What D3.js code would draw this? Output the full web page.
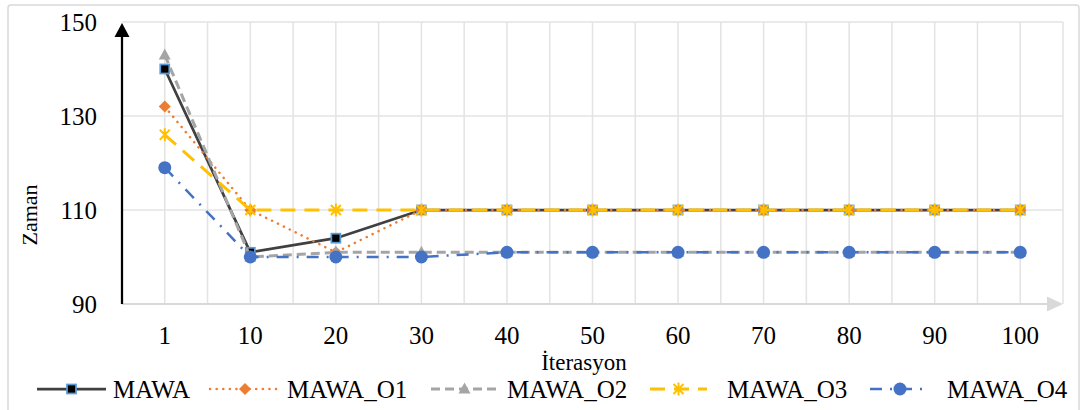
<!DOCTYPE html>
<html>
<head>
	<meta charset="utf-8">
	<title>Zaman / Iterasyon</title>
	<script src="https://d3js.org/d3.v7.min.js"></script>
	<style type="text/css">
		body {
			margin: 0;
			background: #fff;
		}
		svg {
			display: block;
			font-family: "Liberation Serif", "Times New Roman", serif;
		}
		.grid line {
			stroke: #e3e3e3;
			stroke-width: 1.5;
		}
		.tick-label {
			font-size: 25px;
			fill: #000;
		}
	</style>
</head>
<body>

<div id="chart"></div>

<script>
	// ---- data ----
	var iterations = ["1", "10", "20", "30", "40", "50", "60", "70", "80", "90", "100"];
	var yTicks = [90, 110, 130, 150];

	var mawa   = [140, 101, 104, 110, 110, 110, 110, 110, 110, 110, 110];
	var mawaO1 = [132, 110, 101, 110, 110, 110, 110, 110, 110, 110, 110];
	var mawaO2 = [143, 100, 101, 101, 101, 101, 101, 101, 101, 101, 101];
	var mawaO3 = [126, 110, 110, 110, 110, 110, 110, 110, 110, 110, 110];
	var mawaO4 = [119, 100, 100, 100, 101, 101, 101, 101, 101, 101, 101];

	var seriesNames = ["MAWA", "MAWA_O1", "MAWA_O2", "MAWA_O3", "MAWA_O4"];

	var series = [
		{name: seriesNames[0], values: mawa,   color: "#404040", width: 2.75, dash: null,       cap: "butt",  marker: "square"},
		{name: seriesNames[1], values: mawaO1, color: "#ed7d31", width: 2.5,  dash: "0.1 6.5",  cap: "round", marker: "diamond"},
		{name: seriesNames[2], values: mawaO2, color: "#a5a5a5", width: 3,    dash: "9 5",      cap: "butt",  marker: "triangle"},
		{name: seriesNames[3], values: mawaO3, color: "#ffc000", width: 3,    dash: "15 9",     cap: "butt",  marker: "star"},
		{name: seriesNames[4], values: mawaO4, color: "#4472c4", width: 2.5,  dash: "12 8 2 8", cap: "butt",  marker: "circle"}
	];

	// legend layout (line start, line end, text x)
	var legendPos = [[37, 106, 113], [210, 280, 287], [431, 498, 507], [650, 707, 727], [870, 930, 947]];

	// ---- layout ----
	var W = 1085, H = 410;
	var plot = {left: 122, right: 1063, top: 22, bottom: 304};

	var svg = d3.select("#chart").append("svg")
		.attr("width", W)
		.attr("height", H);

	// outer chart border
	svg.append("rect")
		.attr("x", 8).attr("y", 5)
		.attr("width", 1071).attr("height", 420)
		.attr("rx", 3)
		.attr("fill", "#fff")
		.attr("stroke", "#d9d9d9")
		.attr("stroke-width", 1.5);

	var x = d3.scaleBand()
		.domain(iterations)
		.range([plot.left, plot.right])
		.padding(0);

	var y = d3.scaleLinear()
		.domain([90, 150])
		.range([plot.bottom, plot.top]);

	var cx = function(i) { return x(iterations[i]) + x.bandwidth() / 2; };

	// gridlines: vertical at category centres and boundaries
	var grid = svg.append("g").attr("class", "grid");
	var vLines = [];
	iterations.forEach(function(d) {
		vLines.push(x(d) + x.bandwidth() / 2);
		vLines.push(x(d) + x.bandwidth());
	});
	grid.selectAll(".v").data(vLines).enter().append("line")
		.attr("x1", function(d) { return d; })
		.attr("x2", function(d) { return d; })
		.attr("y1", plot.top)
		.attr("y2", plot.bottom);

	grid.selectAll(".h").data(yTicks.filter(function(d) { return d > 90; })).enter().append("line")
		.attr("x1", plot.left)
		.attr("x2", plot.right)
		.attr("y1", function(d) { return y(d); })
		.attr("y2", function(d) { return y(d); });

	// x axis (light grey with arrow)
	svg.append("line")
		.attr("x1", plot.left).attr("x2", plot.right - 12)
		.attr("y1", plot.bottom).attr("y2", plot.bottom)
		.attr("stroke", "#d9d9d9").attr("stroke-width", 2);
	svg.append("path")
		.attr("d", "M" + (plot.right - 16) + "," + (plot.bottom - 7.5) + "L" + plot.right + "," + plot.bottom + "L" + (plot.right - 16) + "," + (plot.bottom + 7.5) + "Z")
		.attr("fill", "#d9d9d9");

	// y axis (black with arrow)
	svg.append("line")
		.attr("x1", plot.left).attr("x2", plot.left)
		.attr("y1", plot.bottom).attr("y2", plot.top + 10)
		.attr("stroke", "#000").attr("stroke-width", 2.25);
	svg.append("path")
		.attr("d", "M" + (plot.left - 7.5) + "," + (plot.top + 15) + "L" + plot.left + "," + (plot.top + 1) + "L" + (plot.left + 7.5) + "," + (plot.top + 15) + "Z")
		.attr("fill", "#000");

	// tick labels
	svg.selectAll(".ytick").data(yTicks).enter().append("text")
		.attr("class", "tick-label")
		.attr("x", 97)
		.attr("y", function(d) { return y(d); })
		.attr("dy", "0.34em")
		.attr("text-anchor", "end")
		.text(function(d) { return d; });

	svg.selectAll(".xtick").data(iterations).enter().append("text")
		.attr("class", "tick-label")
		.attr("x", function(d, i) { return cx(i); })
		.attr("y", 344)
		.attr("text-anchor", "middle")
		.text(function(d) { return d; });

	// axis titles
	svg.append("text")
		.attr("transform", "translate(37,215) rotate(-90)")
		.attr("text-anchor", "middle")
		.style("font-size", "22px")
		.text("Zaman");

	svg.append("text")
		.attr("x", 584)
		.attr("y", 370)
		.attr("text-anchor", "middle")
		.style("font-size", "23px")
		.text("İterasyon");

	// markers
	var drawMarker = function(g, type, color, px, py) {
		if (type === "square") {
			g.append("rect")
				.attr("x", px - 4.5).attr("y", py - 4.5)
				.attr("width", 9).attr("height", 9)
				.attr("fill", "#000")
				.attr("stroke", "#5b9bd5").attr("stroke-width", 1.75);
		} else if (type === "diamond") {
			g.append("path")
				.attr("d", "M" + px + "," + (py - 6) + "L" + (px + 6) + "," + py + "L" + px + "," + (py + 6) + "L" + (px - 6) + "," + py + "Z")
				.attr("fill", color);
		} else if (type === "triangle") {
			g.append("path")
				.attr("d", "M" + px + "," + (py - 6.5) + "L" + (px + 6) + "," + (py + 4.5) + "L" + (px - 6) + "," + (py + 4.5) + "Z")
				.attr("fill", color);
		} else if (type === "star") {
			g.append("path")
				.attr("d", "M" + (px - 5) + "," + (py - 5) + "L" + (px + 5) + "," + (py + 5) +
					"M" + (px - 5) + "," + (py + 5) + "L" + (px + 5) + "," + (py - 5) +
					"M" + px + "," + (py - 6.5) + "L" + px + "," + (py + 6.5))
				.attr("fill", "none")
				.attr("stroke", color).attr("stroke-width", 2);
		} else if (type === "circle") {
			g.append("circle")
				.attr("cx", px).attr("cy", py).attr("r", 6.5)
				.attr("fill", color);
		}
	};

	var line = d3.line()
		.x(function(d, i) { return cx(i); })
		.y(function(d) { return y(d); });

	series.forEach(function(s) {
		var g = svg.append("g").attr("class", "series");
		g.append("path")
			.attr("d", line(s.values))
			.attr("fill", "none")
			.attr("stroke", s.color)
			.attr("stroke-width", s.width)
			.attr("stroke-dasharray", s.dash)
			.attr("stroke-linecap", s.cap)
			.attr("stroke-linejoin", "round");
		s.values.forEach(function(v, i) {
			drawMarker(g, s.marker, s.color, cx(i), y(v));
		});
	});

	// legend
	var legendY = 389;
	series.forEach(function(s, i) {
		var p = legendPos[i];
		var g = svg.append("g").attr("class", "legend-item");
		g.append("line")
			.attr("x1", p[0]).attr("x2", p[1])
			.attr("y1", legendY).attr("y2", legendY)
			.attr("stroke", s.color)
			.attr("stroke-width", s.width)
			.attr("stroke-dasharray", s.dash)
			.attr("stroke-linecap", s.cap);
		drawMarker(g, s.marker, s.color, (p[0] + p[1]) / 2, legendY);
		g.append("text")
			.attr("x", p[2])
			.attr("y", 398)
			.style("font-size", "25px")
			.text(s.name);
	});
</script>

</body>
</html>
